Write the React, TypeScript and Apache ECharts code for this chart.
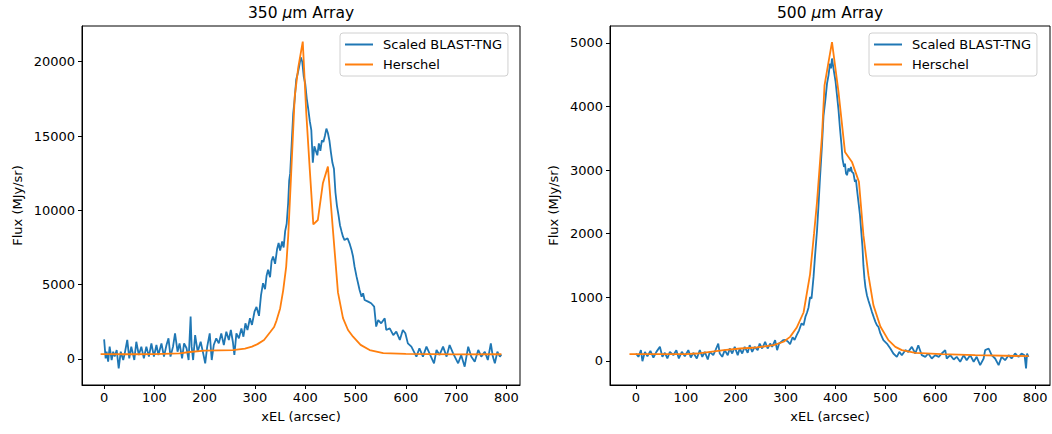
import React, { useEffect, useRef } from "react";
import * as echarts from "echarts";

const FONT = "DejaVu Sans";
const BLUE = "#1f77b4";
const ORANGE = "#ff7f0e";

const xTicks = [0, 100, 200, 300, 400, 500, 600, 700, 800];
const yTicks350 = [0, 5000, 10000, 15000, 20000];
const yTicks500 = [0, 1000, 2000, 3000, 4000, 5000];

const blast350: [number, number][] = [
  [0,1320],[3,45],[5,490],[8,-180],[11,830],[15,-70],[18,490],[21,160],[25,600],[29,-630],[33,490],[38,-70],[41,380],[46,1280],[50,45],[54,830],[60,-70],[64,1160],[69,270],[74,830],[79,45],[84,830],[89,160],[94,1050],[99,160],[104,940],[108,270],[114,1050],[119,160],[124,940],[128,1390],[132,160],[137,830],[141,1720],[146,490],[150,1050],[155,45],[159,1050],[164,720],[168,-70],[172,2850],[174,830],[177,-70],[181,1610],[186,490],[192,1160],[197,380],[201,-290],[205,830],[210,1720],[214,-70],[218,940],[223,1390],[228,1050],[233,1720],[238,940],[243,1830],[248,1280],[252,1950],[256,1160],[259,270],[263,1720],[268,1390],[273,2060],[277,1500],[281,2400],[285,1950],[290,2740],[294,2290],[299,3180],[303,3500],[308,2900],[312,4300],[316,5100],[320,4700],[323,5600],[326,6000],[330,5500],[333,6600],[336,6900],[340,6400],[344,7400],[347,7800],[350,7300],[354,7900],[357,7500],[360,8600],[363,9100],[366,10500],[368,12000],[370,12500],[373,14500],[376,16500],[379,17500],[382,18800],[385,19200],[388,19700],[391,20300],[394,20000],[397,19000],[400,18500],[403,17500],[406,16800],[409,16000],[412,15400],[415,13200],[418,14300],[421,14000],[424,13700],[427,14500],[430,14000],[433,14700],[436,14600],[439,15000],[442,15500],[445,15200],[448,14700],[451,13900],[454,13200],[457,12800],[460,11200],[463,10300],[466,9700],[469,9000],[472,8600],[475,8230],[478,8000],[484,8120],[488,7780],[492,7330],[495,6890],[498,6210],[502,5540],[505,5090],[508,4640],[512,4190],[515,4420],[518,3970],[525,3860],[531,3750],[537,3520],[541,2180],[545,2620],[551,2400],[558,2740],[561,1950],[568,2060],[575,1610],[581,1840],[588,1280],[594,1950],[599,1730],[604,1050],[611,830],[621,160],[627,720],[634,160],[641,830],[647,380],[656,-290],[661,610],[667,270],[674,830],[681,160],[687,940],[694,380],[704,-290],[710,270],[717,-520],[724,830],[730,160],[737,-180],[744,610],[750,160],[757,490],[763,-70],[769,1050],[773,160],[777,-290],[782,490],[787,160],[790,300]
];

const herschel350: [number, number][] = [
  [-7,330],[50,320],[100,330],[150,380],[170,470],[200,560],[256,600],[280,700],[294,830],[305,1000],[318,1280],[330,1800],[338,2150],[343,2600],[350,3400],[356,4600],[362,6200],[366,8230],[372,12500],[379,17650],[386,19600],[395,21350],[402,16530],[409,12720],[416,9050],[425,9350],[435,11820],[445,12940],[455,8680],[465,4480],[475,2750],[485,1950],[495,1500],[510,950],[528,600],[555,390],[600,350],[700,310],[790,320]
];

const blast500: [number, number][] = [
  [0,115],[5,63],[10,168],[13,-5],[18,141],[23,73],[29,157],[35,52],[41,141],[48,220],[53,63],[58,126],[63,37],[68,141],[75,89],[81,168],[86,37],[92,141],[98,73],[105,168],[110,52],[115,126],[122,37],[128,168],[133,63],[138,141],[144,21],[148,141],[155,89],[160,178],[165,272],[168,115],[173,63],[178,168],[184,89],[188,194],[193,115],[198,220],[204,89],[208,194],[213,115],[218,220],[224,126],[228,246],[233,141],[238,220],[244,168],[248,272],[253,194],[259,299],[264,194],[269,272],[273,220],[279,325],[283,168],[287,272],[291,299],[295,325],[300,330],[305,300],[309,260],[314,370],[318,330],[322,400],[327,480],[332,590],[336,560],[340,700],[343,760],[346,840],[349,1000],[352,980],[356,1320],[359,1650],[363,2050],[366,2450],[369,2880],[373,3400],[376,3850],[380,4124],[383,4360],[386,4490],[389,4675],[391,4600],[393,4754],[396,4596],[400,4400],[403,4176],[406,3950],[409,3653],[412,3400],[414,3181],[417,3050],[419,3100],[421,2950],[423,2919],[426,3024],[429,2980],[431,3050],[433,2971],[436,2950],[439,2814],[441,2850],[443,2700],[446,2500],[449,2300],[452,2000],[454,1800],[456,1500],[458,1300],[460,1160],[463,1033],[466,950],[470,850],[473,770],[477,680],[480,613],[483,560],[486,535],[490,430],[496,325],[503,272],[510,194],[516,115],[523,63],[528,141],[533,89],[540,168],[546,141],[553,220],[560,115],[566,246],[573,89],[580,63],[586,115],[593,37],[600,89],[607,63],[613,115],[620,168],[623,37],[630,89],[637,21],[643,63],[650,-15],[657,89],[663,10],[670,89],[677,-15],[683,63],[690,-68],[697,37],[700,168],[707,194],[713,89],[720,37],[727,-68],[733,63],[740,10],[747,89],[753,37],[760,115],[767,63],[773,115],[779,89],[782,-120],[784,115],[787,63]
];

const herschel500: [number, number][] = [
  [-13,105],[50,105],[100,105],[122,115],[176,168],[209,194],[242,210],[276,246],[296,300],[309,377],[322,520],[336,760],[349,1360],[357,2000],[363,2500],[373,3550],[378,4330],[385,4650],[393,5010],[406,4230],[419,3285],[433,3128],[447,2814],[456,1976],[466,1347],[476,876],[490,540],[506,325],[520,220],[533,168],[560,126],[613,105],[680,89],[787,73]
];

const seriesNames = ["Scaled BLAST-TNG", "Herschel"];

const textBase = { fontFamily: FONT, fontSize: 13, color: "#000" };
const plain = (v: number) => String(v);

function xAxis(gridIndex: number, min: number, max: number) {
  return {
    gridIndex,
    type: "value",
    min,
    max,
    minInterval: 100,
    maxInterval: 100,
    axisLine: { show: true, onZero: false, lineStyle: { color: "#000", width: 1 } },
    axisTick: { show: true, length: 4, lineStyle: { color: "#000" }, customValues: xTicks },
    axisLabel: { ...textBase, margin: 6, formatter: plain, customValues: xTicks },
    splitLine: { show: false },
    name: "xEL (arcsec)",
    nameLocation: "middle",
    nameGap: 25,
    nameTextStyle: { ...textBase },
  };
}

function yAxis(gridIndex: number, min: number, max: number, ticks: number[], gap: number) {
  return {
    gridIndex,
    type: "value",
    min,
    max,
    axisLine: { show: true, onZero: false, lineStyle: { color: "#000", width: 1 } },
    axisTick: { show: true, length: 4, lineStyle: { color: "#000" }, customValues: ticks },
    axisLabel: { ...textBase, margin: 7, formatter: plain, customValues: ticks },
    splitLine: { show: false },
    name: "Flux (MJy/sr)",
    nameLocation: "middle",
    nameRotate: 90,
    nameGap: gap,
    nameTextStyle: { ...textBase },
  };
}

function legend(left: number) {
  return {
    left,
    top: 33,
    orient: "vertical",
    icon: "rect",
    itemWidth: 28,
    itemHeight: 2,
    itemGap: 5,
    padding: [4, 6, 4, 5],
    backgroundColor: "rgba(255,255,255,0.8)",
    borderColor: "#d0d0d0",
    borderWidth: 1,
    borderRadius: 3,
    textStyle: { ...textBase, padding: [0, 0, 0, 5], lineHeight: 15 },
    data: seriesNames,
  };
}

function title(x: number, num: string) {
  return {
    type: "text",
    x,
    y: 13,
    style: {
      text: `{a|${num} }{b|μ}{a|m Array}`,
      align: "center",
      verticalAlign: "middle",
      rich: {
        a: { fontFamily: FONT, fontSize: 15.5, fill: "#000" },
        b: { fontFamily: FONT, fontSize: 15.5, fontStyle: "italic", fill: "#000" },
      },
    },
  };
}

function line(name: string, data: [number, number][], idx: number, color: string) {
  return {
    name,
    type: "line",
    xAxisIndex: idx,
    yAxisIndex: idx,
    data,
    symbol: "none",
    showSymbol: false,
    lineStyle: { width: 1.8, color },
    itemStyle: { color },
    clip: true,
  };
}

export default function App() {
  const ref = useRef<HTMLDivElement>(null);
  useEffect(() => {
    if (!ref.current) return;
    const chart = echarts.init(ref.current, undefined, { renderer: "svg" });
    chart.setOption({
      animation: false,
      backgroundColor: "#fff",
      graphic: [title(301, "350"), title(830, "500")],
      grid: [
        { left: 82, top: 26, width: 438, height: 359, show: true, borderColor: "#000", borderWidth: 1, containLabel: false },
        { left: 610, top: 26, width: 440, height: 359, show: true, borderColor: "#000", borderWidth: 1, containLabel: false },
      ],
      xAxis: [xAxis(0, -44, 827), xAxis(1, -52, 830)],
      yAxis: [yAxis(0, -1750, 22400, yTicks350, 58), yAxis(1, -380, 5265, yTicks500, 50)],
      legend: [legend(340), legend(869)],
      series: [
        line(seriesNames[0], blast350, 0, BLUE),
        line(seriesNames[1], herschel350, 0, ORANGE),
        line(seriesNames[0], blast500, 1, BLUE),
        line(seriesNames[1], herschel500, 1, ORANGE),
      ],
    });
    return () => chart.dispose();
  }, []);
  return (
    <div
      ref={ref}
      style={{ position: "fixed", left: 0, top: 0, width: 1052, height: 434, background: "#fff" }}
    />
  );
}
